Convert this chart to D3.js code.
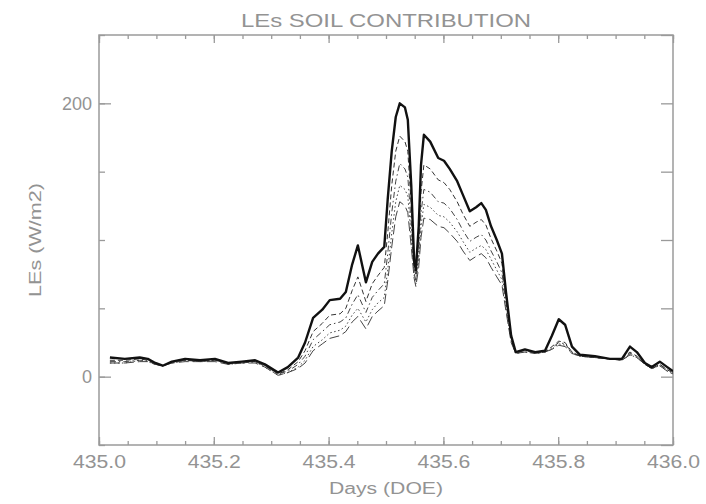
<!DOCTYPE html>
<html>
<head>
<meta charset="utf-8">
<script src="https://cdn.jsdelivr.net/npm/d3@7"></script>
<style>
  html, body { margin: 0; padding: 0; background: #fff; }
  svg { display: block; }
  text { font-family: "Liberation Sans", "DejaVu Sans", sans-serif; fill: #939393; }
</style>
</head>
<body>
<svg id="chart" width="706" height="504"></svg>
<script>
// ---- data ----
const days = [435.019,435.045,435.071,435.085,435.098,435.111,435.127,435.150,435.176,435.202,
  435.225,435.249,435.272,435.289,435.312,435.329,435.347,435.359,435.373,435.389,
  435.402,435.420,435.430,435.441,435.451,435.465,435.476,435.486,435.497,435.503,
  435.510,435.517,435.524,435.533,435.538,435.544,435.549,435.552,435.557,435.561,
  435.566,435.577,435.591,435.601,435.611,435.624,435.634,435.646,435.657,435.666,
  435.674,435.683,435.693,435.702,435.709,435.718,435.726,435.742,435.760,435.777,
  435.789,435.801,435.812,435.824,435.838,435.864,435.890,435.911,435.925,435.937,
  435.951,435.963,435.977,435.990,436.000];
const seriesA = [14,13,14,13,10,8,11,13,12,13, 10,11,12,9,3,7,14,25,43,49,
  56,57,62,82,96,69,84,90,95,130, 165,190,200,197,188,140,85,78,110,155,
  177,172,160,158,152,143,133,121,124,127, 122,110,100,90,62,30,18,20,18,19,
  30,42,38,22,16,15,13,13,22,18, 10,7,11,7,4];
const seriesB = [12,12,13,12,10,8,11,12,12,12, 10,11,11,8,2,5,11,19,33,39,
  45,46,50,63,73,55,68,74,80,105, 140,165,176,172,165,125,80,74,100,135,
  155,152,144,142,137,128,119,110,113,115, 111,101,92,83,58,28,18,19,18,18,
  22,26,25,18,15,14,13,13,18,15, 9,6,9,5,3];
const seriesC = [11,11,12,12,9,8,10,12,11,12, 10,10,11,8,2,4,9,15,27,33,
  38,40,43,53,60,47,58,63,68,90, 120,143,156,152,146,112,76,70,92,120,
  137,135,128,127,123,115,107,99,102,104, 100,92,84,76,54,27,17,19,17,18,
  21,25,24,18,15,14,13,12,17,15, 9,6,9,5,3];
const seriesD = [10,10,12,11,9,8,10,12,11,12, 9,10,11,7,1,3,7,12,22,27,
  32,34,37,45,50,40,49,54,58,78, 105,128,140,137,132,102,74,68,86,110,
  126,124,118,117,113,106,99,91,94,96, 93,86,78,71,51,26,17,18,17,18,
  20,24,23,17,15,14,13,12,16,14, 9,6,8,4,2];
const seriesE = [10,10,11,11,9,8,10,11,11,11, 9,10,10,7,1,3,6,10,19,24,
  28,30,33,40,44,35,44,48,52,70, 95,117,128,125,120,95,72,66,80,102,
  116,115,110,109,105,99,92,85,88,90, 87,80,73,67,48,25,17,18,17,18,
  20,23,22,17,15,14,13,12,16,14, 9,6,8,4,2];
const xMajorTicks = [435.0,435.2,435.4,435.6,435.8,436.0];
const yMajorTicks = [0,200];
const titleText = "LEs SOIL CONTRIBUTION";
const xLabel = "Days (DOE)";
const yLabel = "LEs (W/m2)";

// ---- layout ----
const svg = d3.select("#chart");
const L = 99, R = 673, T = 35, B = 445;
const x = d3.scaleLinear().domain([435, 436]).range([L, R]);
const y = d3.scaleLinear().domain([-50, 250]).range([B, T]);
const axisColor = "#9a9a9a";

const xMinor = d3.range(0, 21).map(i => 435 + i * 0.05);
const yMinor = d3.range(0, 7).map(i => -50 + i * 50);

function styleAxis(g) {
  g.select(".domain").remove();
  g.selectAll(".tick line").attr("stroke", axisColor).attr("stroke-width", 1.3);
  g.selectAll("text").attr("fill", "#939393").style("font-size", "18px")
    .style("font-family", '"Liberation Sans", "DejaVu Sans", sans-serif');
}

// bottom
svg.append("g").attr("transform", `translate(0,${B})`)
  .call(d3.axisBottom(x).tickValues(xMinor).tickSize(-4).tickFormat(""))
  .call(styleAxis);
svg.append("g").attr("transform", `translate(0,${B})`)
  .call(d3.axisBottom(x).tickValues(xMajorTicks).tickSize(-8).tickPadding(10).tickFormat(d3.format(".1f")))
  .call(styleAxis)
  .call(g => g.selectAll("text").attr("textLength", 53).attr("lengthAdjust", "spacingAndGlyphs"));
// top
svg.append("g").attr("transform", `translate(0,${T})`)
  .call(d3.axisTop(x).tickValues(xMinor).tickSize(-4).tickFormat(""))
  .call(styleAxis);
svg.append("g").attr("transform", `translate(0,${T})`)
  .call(d3.axisTop(x).tickValues(xMajorTicks).tickSize(-8).tickFormat(""))
  .call(styleAxis);
// left
svg.append("g").attr("transform", `translate(${L},0)`)
  .call(d3.axisLeft(y).tickValues(yMinor).tickSize(-6).tickFormat(""))
  .call(styleAxis);
svg.append("g").attr("transform", `translate(${L},0)`)
  .call(d3.axisLeft(y).tickValues(yMajorTicks).tickSize(-12).tickPadding(7).tickFormat(d3.format("d")))
  .call(styleAxis);
// right
svg.append("g").attr("transform", `translate(${R},0)`)
  .call(d3.axisRight(y).tickValues(yMinor).tickSize(-12).tickFormat(""))
  .call(styleAxis);

// frame
svg.append("rect").attr("x", L).attr("y", T).attr("width", R - L).attr("height", B - T)
  .attr("fill", "none").attr("stroke", axisColor).attr("stroke-width", 1.5);

// lines
svg.append("clipPath").attr("id", "clip").append("rect")
  .attr("x", L).attr("y", T).attr("width", R - L).attr("height", B - T);
const series = [
  {v: seriesE, w: 1, dash: "10,4", c: "#444"},
  {v: seriesD, w: 1, dash: "1.5,2.5", c: "#444"},
  {v: seriesC, w: 1, dash: "6,3,1.5,3", c: "#444"},
  {v: seriesB, w: 1, dash: "5,3", c: "#333"},
  {v: seriesA, w: 2.4, dash: null, c: "#111"}
];
const line = d3.line().x((d, i) => x(days[i])).y(d => y(d));
series.forEach(s => {
  svg.append("path").datum(s.v).attr("d", line).attr("fill", "none")
    .attr("stroke", s.c).attr("stroke-width", s.w)
    .attr("stroke-dasharray", s.dash).attr("stroke-linejoin", "round")
    .attr("clip-path", "url(#clip)");
});

// titles
svg.append("text").attr("x", 386).attr("y", 27).attr("text-anchor", "middle")
  .style("font-size", "18px").attr("textLength", 290).attr("lengthAdjust", "spacingAndGlyphs")
  .text(titleText);
svg.append("text").attr("x", 386).attr("y", 494).attr("text-anchor", "middle")
  .style("font-size", "16px").attr("textLength", 114).attr("lengthAdjust", "spacingAndGlyphs")
  .text(xLabel);
svg.append("text").attr("transform", "translate(41,240) rotate(-90)").attr("text-anchor", "middle")
  .style("font-size", "16px").attr("textLength", 114).attr("lengthAdjust", "spacingAndGlyphs")
  .text(yLabel);
</script>
</body>
</html>
